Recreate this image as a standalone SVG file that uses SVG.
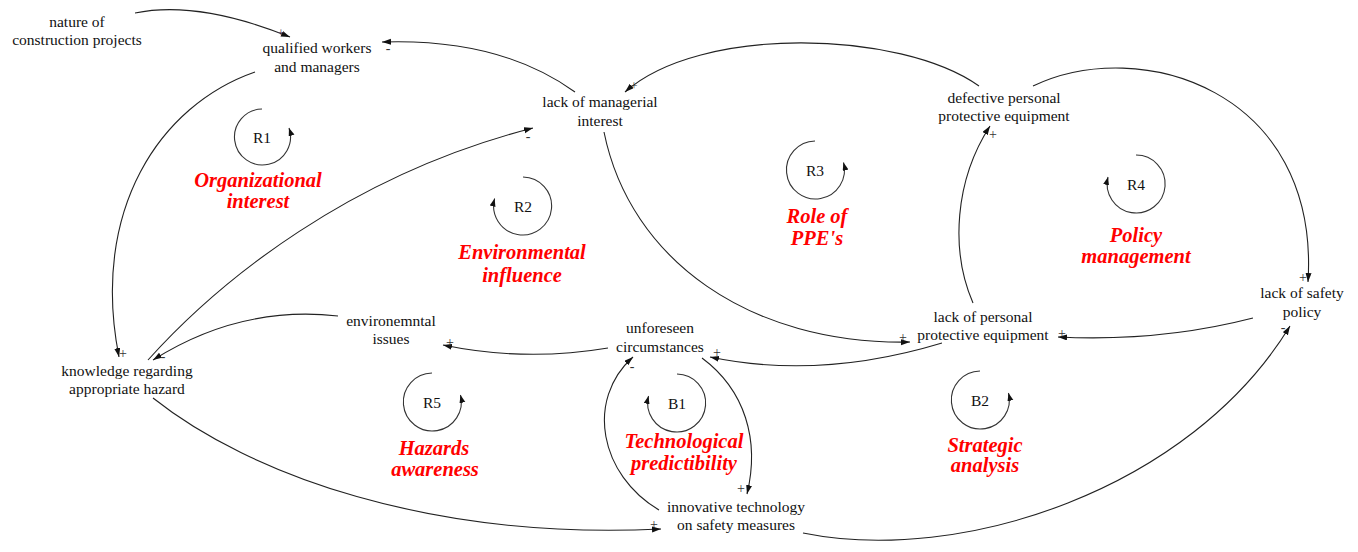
<svg xmlns="http://www.w3.org/2000/svg" width="1358" height="552" viewBox="0 0 1358 552">
  <style>
    .lbl { font-family: "Liberation Serif", "DejaVu Serif", "Noto Serif", "Times New Roman", serif; font-size: 15.5px; fill: #111; text-anchor: middle; }
    .loop { font-family: "Liberation Serif", "DejaVu Serif", "Noto Serif", "Times New Roman", serif; font-size: 20.5px; font-weight: bold; font-style: italic; fill: #ff0000; text-anchor: middle; }
    .sign { font-family: "Liberation Serif", "DejaVu Serif", "Times New Roman", serif; font-size: 14px; fill: #333; text-anchor: middle; }
    .link { fill: none; stroke: #222; stroke-width: 1.1; marker-end: url(#arrow); }
    .cyc { fill: none; stroke: #333; stroke-width: 1.1; marker-end: url(#arrowSmall); }
  </style>
  <defs>
    <marker id="arrow" markerUnits="userSpaceOnUse" markerWidth="10" markerHeight="7" refX="9" refY="3" orient="auto">
      <path d="M0,0 L9,3 L0,6 z" fill="#111"/>
    </marker>
    <marker id="arrowSmall" markerUnits="userSpaceOnUse" markerWidth="9" markerHeight="7" refX="8" refY="3" orient="auto">
      <path d="M0,0 L8,3 L0,6 z" fill="#111"/>
    </marker>
  </defs>
  <rect width="1358" height="552" fill="#fff"/>

  <!-- causal links -->
  <g id="connectors">
    <path class="link" d="M135,13 Q198,0 290,37"/>
    <path class="link" d="M575,92 Q500,38 382,42"/>
    <path class="link" d="M255,72 C160,105 90,210 119,357"/>
    <path class="link" d="M148,360 C220,280 350,175 533,128"/>
    <path class="link" d="M338,316 Q240,305 153,360"/>
    <path class="link" d="M608,348 Q525,362 443,345"/>
    <path class="link" d="M942,343 Q820,380 710,357"/>
    <path class="link" d="M702,358 C745,390 760,440 747,494"/>
    <path class="link" d="M659,510 C600,475 585,400 633,357"/>
    <path class="link" d="M153,398 C250,475 430,540 661,529"/>
    <path class="link" d="M803,533 C960,565 1190,490 1290,326"/>
    <path class="link" d="M1253,318 Q1160,342 1058,337"/>
    <path class="link" d="M973,303 C950,250 955,180 990,126"/>
    <path class="link" d="M1033,86 C1140,35 1320,90 1308,282"/>
    <path class="link" d="M979,86 C900,30 700,25 625,92"/>
    <path class="link" d="M604,132 C630,260 750,345 910,342"/>

    <!-- polarity marks -->
    <text class="sign" x="281" y="37" style="fill:#5a3a5a;font-size:13px">+</text>
    <text class="sign" x="388" y="53">-</text>
    <text class="sign" x="123" y="358">+</text>
    <text class="sign" x="528" y="141">-</text>
    <text class="sign" x="163" y="361">-</text>
    <text class="sign" x="450" y="347">+</text>
    <text class="sign" x="717" y="357">+</text>
    <text class="sign" x="741" y="493">+</text>
    <text class="sign" x="632" y="371">-</text>
    <text class="sign" x="654" y="529">+</text>
    <text class="sign" x="1283" y="332">-</text>
    <text class="sign" x="1062" y="338">+</text>
    <text class="sign" x="993" y="139">+</text>
    <text class="sign" x="1303" y="282">+</text>
    <text class="sign" x="634" y="90" style="font-size:13px">+</text>
    <text class="sign" x="903" y="342">+</text>
  </g>

  <!-- variables -->
  <g id="nature-of-construction-projects">
    <text class="lbl" x="77" y="26.5">nature of</text>
    <text class="lbl" x="77" y="45">construction projects</text>
  </g>
  <g id="qualified-workers">
    <text class="lbl" x="317" y="53">qualified workers</text>
    <text class="lbl" x="317" y="72">and managers</text>
  </g>
  <g id="lack-of-managerial-interest">
    <text class="lbl" x="600" y="107">lack of managerial</text>
    <text class="lbl" x="600" y="126">interest</text>
  </g>
  <g id="defective-ppe">
    <text class="lbl" x="1004" y="103">defective personal</text>
    <text class="lbl" x="1004" y="121">protective equipment</text>
  </g>
  <g id="lack-of-safety-policy">
    <text class="lbl" x="1302" y="298">lack of safety</text>
    <text class="lbl" x="1302" y="316.5">policy</text>
  </g>
  <g id="lack-of-ppe">
    <text class="lbl" x="983" y="322">lack of personal</text>
    <text class="lbl" x="983" y="340">protective equipment</text>
  </g>
  <g id="unforeseen-circumstances">
    <text class="lbl" x="660" y="333">unforeseen</text>
    <text class="lbl" x="660" y="352">circumstances</text>
  </g>
  <g id="environmental-issues">
    <text class="lbl" x="391" y="326">environemntal</text>
    <text class="lbl" x="391" y="344">issues</text>
  </g>
  <g id="hazard-knowledge">
    <text class="lbl" x="127" y="375.5">knowledge regarding</text>
    <text class="lbl" x="127" y="393.5">appropriate hazard</text>
  </g>
  <g id="innovative-technology">
    <text class="lbl" x="736" y="512">innovative technology</text>
    <text class="lbl" x="736" y="530">on safety measures</text>
  </g>

  <!-- feedback loops -->
  <g id="loop-R1">
    <path class="cyc" d="M262,109 A28,28 0 1,0 289,128"/>
    <text class="lbl" x="262" y="143">R1</text>
    <text class="loop" x="258" y="187">Organizational</text>
    <text class="loop" x="258" y="208">interest</text>
  </g>
  <g id="loop-R2">
    <path class="cyc" d="M523,177 A29,29 0 1,1 494.6,198.5"/>
    <text class="lbl" x="523" y="212">R2</text>
    <text class="loop" x="522" y="259">Environmental</text>
    <text class="loop" x="522" y="282">influence</text>
  </g>
  <g id="loop-R3">
    <path class="cyc" d="M815,141 A29,29 0 1,0 843.5,162.5"/>
    <text class="lbl" x="815" y="176">R3</text>
    <text class="loop" x="817" y="223">Role of</text>
    <text class="loop" x="817" y="245">PPE's</text>
  </g>
  <g id="loop-R4">
    <path class="cyc" d="M1136,155 A29,29 0 1,1 1108,177"/>
    <text class="lbl" x="1136" y="190">R4</text>
    <text class="loop" x="1136" y="242">Policy</text>
    <text class="loop" x="1136" y="263">management</text>
  </g>
  <g id="loop-R5">
    <path class="cyc" d="M432,373 A29,29 0 1,0 460.5,395"/>
    <text class="lbl" x="432" y="408">R5</text>
    <text class="loop" x="434" y="455">Hazards</text>
    <text class="loop" x="435" y="476">awareness</text>
  </g>
  <g id="loop-B1">
    <path class="cyc" d="M677,374 A29,29 0 1,1 648.5,396"/>
    <text class="lbl" x="677" y="408.5">B1</text>
    <text class="loop" x="684" y="448">Technological</text>
    <text class="loop" x="684" y="470">predictibility</text>
  </g>
  <g id="loop-B2">
    <path class="cyc" d="M980,371 A29,29 0 1,0 1008.5,393"/>
    <text class="lbl" x="980" y="405.5">B2</text>
    <text class="loop" x="985" y="452">Strategic</text>
    <text class="loop" x="985" y="472">analysis</text>
  </g>
</svg>
